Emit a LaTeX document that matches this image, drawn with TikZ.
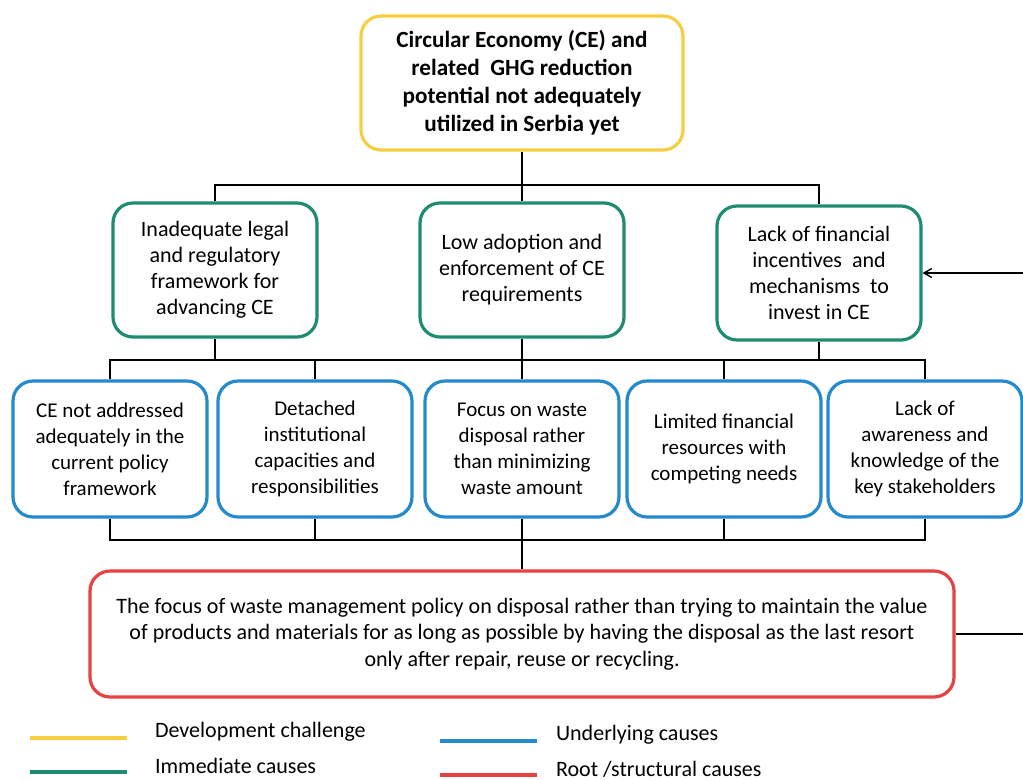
\documentclass[tikz,border=0pt]{standalone}
\usepackage{fontspec}
\setmainfont{Carlito}
\usetikzlibrary{arrows,positioning}

\definecolor{challenge}{RGB}{246,206,66}
\definecolor{immediate}{RGB}{30,140,112}
\definecolor{underlying}{RGB}{36,138,204}
\definecolor{root}{RGB}{230,66,66}

\tikzset{
  every box/.style={draw, rounded corners=10pt, line width=1.6pt, align=center,
    inner sep=3pt, font=\fontsize{10.5}{13}\selectfont},
  challenge box/.style={every box, draw=challenge, minimum width=161pt,
    minimum height=67pt, font=\fontsize{11.6}{14}\selectfont\bfseries},
  immediate box/.style={every box, draw=immediate, minimum width=102pt,
    minimum height=67pt, font=\fontsize{11}{13}\selectfont},
  underlying box/.style={every box, draw=underlying, minimum width=97pt, minimum height=68pt},
  root box/.style={every box, draw=root, minimum width=432pt, minimum height=63pt,
    font=\fontsize{11}{13.3}\selectfont},
  link/.style={draw=black, line width=0.7pt},
  key line/.style={line width=1.6pt}
}

\begin{document}
\begin{tikzpicture}[x=0.5pt, y=-0.5pt, >=angle 60]

\useasboundingbox (0,0) rectangle (1023,780);

\node [challenge box] (challenge) at (522,83)
  {Circular Economy (CE) and\\ related \ GHG reduction\\ potential not adequately\\ utilized in Serbia yet};

\foreach \x/\y/\t [count=\i] in {
    215/270/{Inadequate legal\\ and regulatory\\ framework for\\ advancing CE},
    522/270/{Low adoption and\\ enforcement of CE\\ requirements},
    819/273/{Lack of financial\\ incentives \ and\\ mechanisms \ to\\ invest in CE}}
  \node [immediate box] (immediate-\i) at (\x,\y) {\t};

\foreach \x/\t [count=\i] in {
    110/{CE not addressed\\ adequately in the\\ current policy\\ framework},
    315/{Detached\\ institutional\\ capacities and\\ responsibilities},
    522/{Focus on waste\\ disposal rather\\ than minimizing\\ waste amount},
    724/{Limited financial\\ resources with\\ competing needs},
    925/{Lack of\\ awareness and\\ knowledge of the\\ key stakeholders}}
  \node [underlying box] (underlying-\i) at (\x,449) {\t};

\node [root box] (root) at (522,634)
  {The focus of waste management policy on disposal rather than trying to maintain the value\\
   of products and materials for as long as possible by having the disposal as the last resort\\
   only after repair, reuse or recycling.};

% bars between the levels
\coordinate (topbar) at (0,185);
\coordinate (midbar) at (0,360);
\coordinate (lowbar) at (0,540);
\coordinate (farright) at (1032,0);

\draw [link] (challenge.south) -- (immediate-2.north);
\draw [link] (immediate-1.north) |- (immediate-3.north |- topbar) -- (immediate-3.north);

\draw [link] (underlying-1.north) |- (underlying-5.north |- midbar) -- (underlying-5.north);
\foreach \i in {1,3}
  \draw [link] (immediate-\i.south) -- (immediate-\i.south |- midbar);
\draw [link] (immediate-2.south) -- (underlying-3.north);
\foreach \i in {2,4}
  \draw [link] (underlying-\i.north) -- (underlying-\i.north |- midbar);

\draw [link] (underlying-1.south) |- (underlying-5.south |- lowbar) -- (underlying-5.south);
\foreach \i in {2,4}
  \draw [link] (underlying-\i.south) -- (underlying-\i.south |- lowbar);
\draw [link] (underlying-3.south) -- (root.north);

% feedback from the root cause
\draw [link, ->] (root.east) -- (root.east -| farright) |- (immediate-3.east);

% legend
\foreach \c/\x/\y/\tx/\l [count=\i] in {
    challenge/30/738/148/{Development challenge},
    immediate/30/772/148/{Immediate causes},
    underlying/440/741/549/{Underlying causes},
    root/440/775/549/{Root /structural causes}}
  {
  \draw [key line, \c] (\x,\y) -- ++(97,0);
  \node [anchor=west, font=\fontsize{11}{13}\selectfont] (key-\i) at (\tx,\y-6) {\l};
  }

\end{tikzpicture}
\end{document}
